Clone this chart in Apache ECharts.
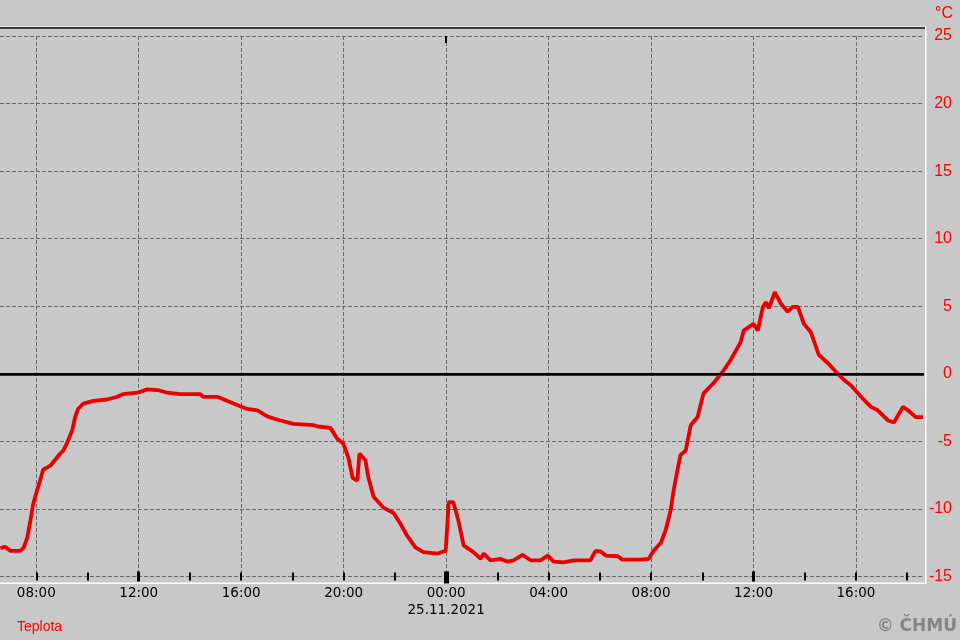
<!DOCTYPE html>
<html>
<head>
<meta charset="utf-8">
<script src="https://cdn.jsdelivr.net/npm/echarts@6/dist/echarts.min.js"></script>
<style>
  html, body { margin: 0; padding: 0; background: #c8c8c8; }
  #chart { width: 960px; height: 640px; }
</style>
</head>
<body>
<div id="chart"></div>
<script>
// ---- data (day of month + local time, temperature in °C) ----
const times = [
  '24 06:36','24 06:47','24 06:59','24 07:22','24 07:30','24 07:39','24 07:46','24 07:53',
  '24 08:02','24 08:09','24 08:16','24 08:33','24 08:56','24 09:03','24 09:13','24 09:24',
  '24 09:31','24 09:38','24 09:50','24 10:14','24 10:46','24 11:10','24 11:24','24 11:57',
  '24 12:20','24 12:44','24 13:07','24 13:37','24 14:24','24 14:31','24 15:04','24 15:42',
  '24 16:14','24 16:38','24 17:01','24 17:25','24 18:02','24 18:49','24 18:59','24 19:29',
  '24 19:45','24 19:59','24 20:11','24 20:21','24 20:32','24 20:37','24 20:51','24 20:58',
  '24 21:10','24 21:33','24 21:57','24 22:13','24 22:29','24 22:48','24 23:07','24 23:40',
  '24 23:59','25 00:06','25 00:17','25 00:29','25 00:41','25 01:04','25 01:21','25 01:28',
  '25 01:44','25 02:08','25 02:24','25 02:38','25 02:59','25 03:18','25 03:41','25 03:58',
  '25 04:12','25 04:35','25 04:59','25 05:38','25 05:50','25 06:02','25 06:14','25 06:42',
  '25 06:53','25 07:36','25 07:54','25 08:06','25 08:23','25 08:34','25 08:46','25 08:53',
  '25 09:02','25 09:09','25 09:21','25 09:33','25 09:49','25 10:03','25 10:26','25 10:48',
  '25 11:06','25 11:30','25 11:37','25 12:00','25 12:10','25 12:22','25 12:29','25 12:36',
  '25 12:50','25 13:04','25 13:20','25 13:32','25 13:44','25 13:58','25 14:14','25 14:33',
  '25 14:54','25 15:13','25 15:32','25 15:48','25 16:12','25 16:35','25 16:51','25 17:15',
  '25 17:29','25 17:50','25 18:02','25 18:20','25 18:37'
];
const temps = [
  -12.9,-12.8,-13.1,-13.1,-12.9,-12.1,-10.9,-9.6,
  -8.6,-7.9,-7.1,-6.8,-5.9,-5.7,-5.05,-4.2,
  -3.2,-2.6,-2.2,-2.0,-1.9,-1.7,-1.5,-1.4,
  -1.15,-1.2,-1.4,-1.5,-1.5,-1.7,-1.7,-2.2,
  -2.6,-2.7,-3.15,-3.4,-3.7,-3.8,-3.9,-4.0,
  -4.8,-5.15,-6.2,-7.7,-7.9,-5.9,-6.4,-7.7,
  -9.1,-9.9,-10.3,-11.1,-12.0,-12.85,-13.2,-13.3,
  -13.1,-9.5,-9.5,-10.9,-12.7,-13.2,-13.7,-13.3,
  -13.8,-13.7,-13.9,-13.8,-13.4,-13.8,-13.8,-13.45,
  -13.9,-13.95,-13.8,-13.8,-13.1,-13.15,-13.45,-13.5,
  -13.75,-13.75,-13.7,-13.1,-12.5,-11.6,-10.1,-8.6,
  -7.1,-6.0,-5.7,-3.8,-3.2,-1.45,-0.7,0.15,
  1.0,2.35,3.2,3.7,3.2,4.95,5.3,4.85,
  6.05,5.2,4.6,4.95,4.95,3.7,3.1,1.4,
  0.8,0.15,-0.45,-0.85,-1.7,-2.45,-2.7,-3.45,
  -3.6,-2.45,-2.7,-3.2,-3.2
];
// axis window and tick labels
const axisStart = '24 06:35';
const axisEnd = '25 18:37';
const hourTicks = ['24 08:00','24 10:00','24 12:00','24 14:00','24 16:00','24 18:00','24 20:00','24 22:00',
                   '25 00:00','25 02:00','25 04:00','25 06:00','25 08:00','25 10:00','25 12:00','25 14:00','25 16:00','25 18:00'];
const labelTicks = ['24 08:00','24 12:00','24 16:00','24 20:00','25 00:00','25 04:00','25 08:00','25 12:00','25 16:00'];
const noonTicks = ['24 12:00','25 12:00'];
const midnightTicks = ['25 00:00'];
const dateLabel = '25.11.2021';
const yTicks = { min: -15, max: 25, step: 5 };

// minutes since 24.11.2021 00:00
function toMin(s) {
  const d = parseInt(s.slice(0, 2), 10) - 24;
  const h = parseInt(s.slice(3, 5), 10);
  const m = parseInt(s.slice(6, 8), 10);
  return d * 1440 + h * 60 + m;
}
function fmt(v) {
  const mm = ((Math.round(v) % 1440) + 1440) % 1440;
  const h = Math.floor(mm / 60), m = mm % 60;
  const s = (h < 10 ? '0' : '') + h + ':' + (m < 10 ? '0' : '') + m;
  return Math.round(v) === 1440 ? s + '\n' + dateLabel : s;
}

const xMin = toMin(axisStart), xMax = toMin(axisEnd);
const seriesData = times.map((t, i) => [toMin(t), temps[i]]);

function helperAxis(extra) {
  return Object.assign({
    type: 'value', min: xMin, max: xMax, position: 'bottom', gridIndex: 0,
    axisLine: { show: false }, axisTick: { show: false },
    axisLabel: { show: false }, splitLine: { show: false }
  }, extra);
}

const chart = echarts.init(document.getElementById('chart'), null, { renderer: 'canvas' });
chart.setOption({
  backgroundColor: '#c8c8c8',
  animation: false,
  grid: { left: 0, right: 37, top: 36, height: 540.5 },
  xAxis: [
    {
      type: 'value', min: xMin, max: xMax, position: 'bottom',
      axisLine: { lineStyle: { color: '#000', width: 2.5 } },
      axisTick: { show: false },
      splitLine: { show: false },
      axisLabel: {
        customValues: labelTicks.map(toMin),
        formatter: fmt,
        margin: 8,
        color: '#000',
        fontFamily: 'DejaVu Sans',
        fontSize: 13.5,
        lineHeight: 17
      }
    },
    helperAxis({ offset: -4, axisTick: { show: true, customValues: hourTicks.map(toMin), length: 8, lineStyle: { color: '#000', width: 2 } } }),
    helperAxis({ offset: -5, axisTick: { show: true, customValues: noonTicks.map(toMin), length: 10, lineStyle: { color: '#000', width: 3 } } }),
    helperAxis({ offset: -5, axisTick: { show: true, customValues: midnightTicks.map(toMin), length: 12, lineStyle: { color: '#000', width: 5 } } }),
    helperAxis({ axisTick: { show: false, customValues: labelTicks.map(toMin) },
                 splitLine: { show: true, lineStyle: { color: '#6a6a6a', width: 1, type: [4, 2] } } }),
    helperAxis({ position: 'top', axisTick: { show: true, inside: true, customValues: midnightTicks.map(toMin), length: 7, lineStyle: { color: '#000', width: 2 } } })
  ],
  yAxis: {
    type: 'value', position: 'right',
    min: yTicks.min, max: yTicks.max, interval: yTicks.step,
    axisLine: { show: false }, axisTick: { show: false },
    axisLabel: { color: '#ff0000', fontFamily: 'Liberation Sans', fontSize: 16, align: 'right', margin: 29 },
    splitLine: { lineStyle: { color: '#6a6a6a', width: 1, type: [4, 2] } }
  },
  series: [
    {
      type: 'line', data: [], z: 1, silent: true,
      markLine: {
        silent: true, symbol: 'none', label: { show: false },
        lineStyle: { color: '#000', width: 2, type: 'solid' },
        data: [{ yAxis: 0 }]
      }
    },
    {
      name: 'Teplota', type: 'line', data: seriesData, z: 3,
      showSymbol: false, symbol: 'none',
      lineStyle: { color: '#e80000', width: 3.8 },
      clip: true
    }
  ],
  graphic: [
    { type: 'rect', shape: { x: 0, y: 26, width: 926, height: 1 }, style: { fill: '#e6e6e6' }, silent: true },
    { type: 'rect', shape: { x: 0, y: 27, width: 926, height: 2 }, style: { fill: '#3c3c3c' }, silent: true },
    { type: 'rect', shape: { x: 925, y: 27, width: 1.5, height: 557 }, style: { fill: '#ffffff' }, silent: true },
    { type: 'rect', shape: { x: 0, y: 582.5, width: 926.5, height: 1.5 }, style: { fill: '#ffffff' }, silent: true },
    { type: 'text', x: 953, y: 14, style: { text: '°C', fill: '#ff0000', font: '16px "Liberation Sans"', align: 'right', verticalAlign: 'middle' }, silent: true },
    { type: 'text', x: 17, y: 627, style: { text: 'Teplota', fill: '#ff0000', font: '14px "Liberation Sans"', align: 'left', verticalAlign: 'middle' }, silent: true },
    { type: 'text', x: 957, y: 627, style: { text: '© ČHMÚ', fill: '#858585', font: 'bold 17px "DejaVu Sans"', align: 'right', verticalAlign: 'middle' }, silent: true }
  ]
});
</script>
</body>
</html>
